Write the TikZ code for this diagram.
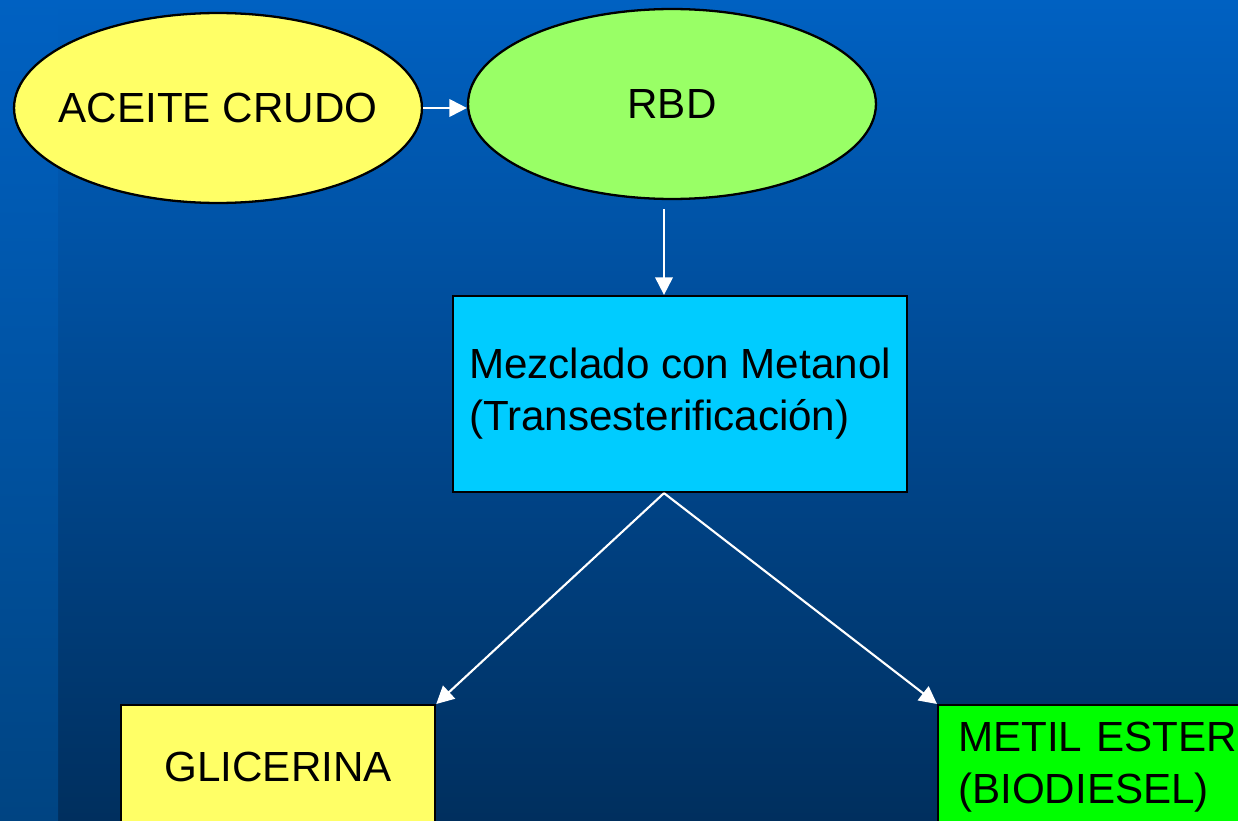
\documentclass[tikz,border=0pt]{standalone}
\usepackage{fontspec}
\setmainfont{Liberation Sans}
\usetikzlibrary{shapes.geometric,arrows.meta}

\definecolor{bgtop}{HTML}{0061C2}
\definecolor{bgbot}{HTML}{002F5E}
\definecolor{stripbot}{HTML}{004482}
\definecolor{crudo}{HTML}{FFFF66}
\definecolor{rbdgreen}{HTML}{99FF66}
\definecolor{mezcyan}{HTML}{00CCFF}
\definecolor{esterg}{HTML}{00FF00}

\begin{document}
\begin{tikzpicture}[x=0.02cm,y=-0.02cm,
  every node/.style={font=\fontsize{24}{29.5}\selectfont, text=black},
  oval/.style={ellipse, draw=black, line width=1.3pt, minimum width=8.16cm, minimum height=3.8cm, inner sep=0pt},
  caja/.style={rectangle, draw=black, line width=1.3pt},
  flecha/.style={draw=white, line width=1.2pt, -{Triangle[length=10pt,width=10pt]}}]
\clip (0,0) rectangle (1238,821);
\useasboundingbox (0,0) rectangle (1238,821);

% fondo
\shade[top color=bgtop, bottom color=bgbot] (0,0) rectangle (1238,821);
\shade[top color=bgtop, bottom color=stripbot] (0,0) rectangle (58,821);

% nodos
\node[oval, fill=crudo] (aceite) at (218,108) {\makebox[0pt]{ACEITE CRUDO}};
\node[oval, fill=rbdgreen] (rbd) at (672,104) {\makebox[0pt]{RBD}};
\node[caja, fill=mezcyan, minimum width=9.08cm, minimum height=3.92cm, align=left] (mez) at (680,394)
  {Mezclado con Metanol\\(Transesterificación)};
\node[caja, fill=crudo, anchor=north west, minimum width=6.28cm, minimum height=2.48cm] (glic) at (120,704) {GLICERINA};
\node[caja, fill=esterg, anchor=north west, inner xsep=0.4cm, text width=5.6cm, minimum height=2.48cm, align=left] (metil) at (937,704)
  {METIL ESTER\\(BIODIESEL)};

\coordinate (baja) at ([xshift=-0.16cm]rbd.south);
\coordinate (split) at (mez.south -| baja);

% flechas
\draw[flecha] (aceite.east) -- (aceite.east -| rbd.west);
\draw[flecha, shorten <=5pt] (baja) -- (baja |- mez.north);
\draw[flecha] (split) -- (glic.north east);
\draw[flecha] (split) -- (metil.north west);
\end{tikzpicture}
\end{document}
